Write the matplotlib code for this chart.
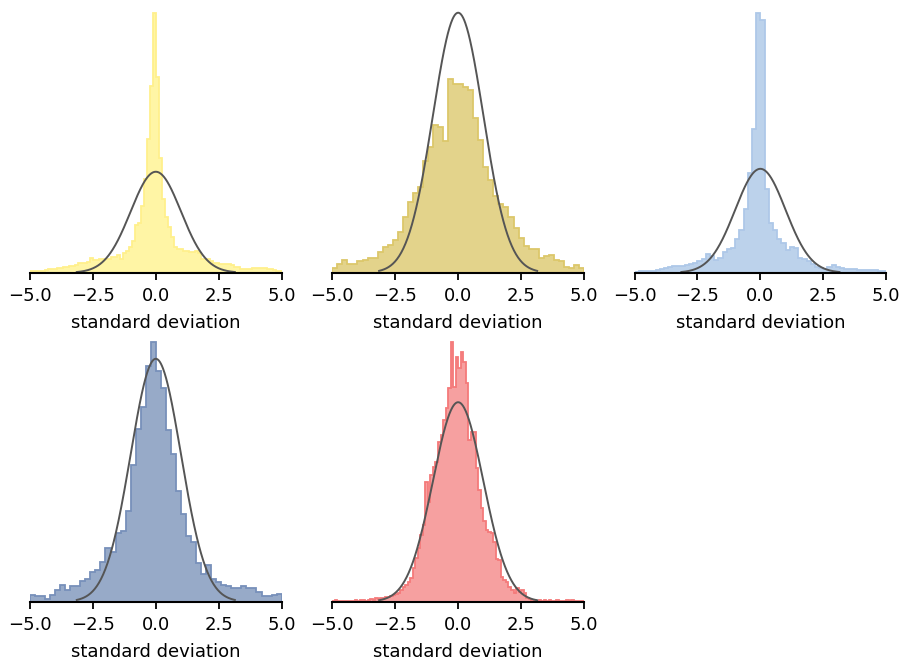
import matplotlib
matplotlib.use("Agg")
import matplotlib.pyplot as plt
import numpy as np

# histogram densities, bins spread evenly over [-5, 5]
yellow_density = [.008, .008, .005, .005, .005, .012, .014, .014, .016, .018,
                  .018, .021, .024, .025, .028, .030, .038, .038, .038, .041,
                  .057, .050, .050, .053, .053, .053, .055, .063, .063, .072,
                  .053, .079, .087, .103, .125, .188, .198, .263, .369, .527,
                  .737, 1.027, .772, .452, .290, .221, .182, .140, .103, .092,
                  .092, .087, .084, .080, .080, .087, .079, .053, .053, .053,
                  .047, .037, .037, .034, .034, .034, .034, .032, .024, .024,
                  .016, .016, .016, .016, .018, .020, .020, .020, .018, .013,
                  .013, .009, .008, .008]

khaki_density = [.008, .013, .019, .013, .014, .018, .019, .022, .022, .032,
                 .040, .042, .050, .063, .086, .108, .123, .131, .172, .193,
                 .227, .223, .202, .298, .289, .290, .285, .281, .238, .204,
                 .162, .143, .117, .106, .101, .086, .068, .053, .041, .037,
                 .037, .022, .026, .027, .019, .018, .009, .007, .012, .007]

lightblue_density = [.004, .006, .006, .006, .006, .012, .013, .019, .022, .026,
                     .026, .027, .028, .032, .038, .046, .051, .072, .064, .049,
                     .058, .079, .090, .096, .128, .164, .243, .384, .550, .998,
                     .972, .320, .192, .164, .128, .115, .087, .100, .096, .055,
                     .051, .046, .032, .023, .019, .015, .023, .028, .023, .017,
                     .013, .013, .013, .010, .010, .010, .012, .012, .008, .006]

slate_density = [.011, .009, .010, .005, .011, .019, .027, .019, .025, .026,
                 .034, .037, .049, .052, .066, .088, .082, .112, .116, .149,
                 .225, .283, .320, .387, .427, .379, .351, .282, .243, .181,
                 .144, .108, .098, .063, .046, .060, .038, .033, .027, .026,
                 .023, .022, .025, .023, .022, .016, .010, .010, .011, .013]

salmon_density = [.002, .003, .001, .001, .001, .001, .001, .001, .002, .003,
                  .001, .003, .004, .002, .003, .005, .004, .007, .006, .008,
                  .007, .009, .010, .012, .013, .015, .017, .023, .030, .033,
                  .040, .047, .067, .087, .107, .133, .153, .240, .200, .253,
                  .270, .280, .320, .333, .364, .387, .427, .520, .430, .490,
                  .467, .500, .480, .437, .323, .340, .340, .267, .223, .187,
                  .161, .143, .140, .137, .120, .085, .083, .050, .043, .040,
                  .030, .023, .017, .027, .020, .023, .017, .008, .005, .002,
                  .003, .001, .003, .001, .003, .001, .003, .001, .001, .003,
                  .001, .002, .001, .003, .001, .003, .002, .001, .002, .001]

fill_colors = ['#FFF5A5', '#E3D38B', '#BCD2EB', '#97AAC8', '#F6A0A0']
edge_colors = ['#FFF08C', '#DCC76A', '#AEC8E8', '#7790BA', '#F47A7A']

series = [yellow_density, khaki_density, lightblue_density, slate_density, salmon_density]

plt.rcParams['font.family'] = ['DejaVu Sans']

fig = plt.figure(figsize=(9.03, 6.62), dpi=100)

lefts = [0.0332, 0.368, 0.7027]
bottoms = [0.588, 0.0911]
width, height = 0.2787, 0.4124

curve_x = np.linspace(-3.14, 3.14, 300)
curve_y = np.exp(-curve_x ** 2 / 2) / np.sqrt(2 * np.pi)

for i, dens in enumerate(series):
    ax = fig.add_axes([lefts[i % 3], bottoms[i // 3], width, height])
    edges = np.linspace(-5, 5, len(dens) + 1)
    ax.stairs(dens, edges, fill=True, color=fill_colors[i], lw=0)
    ax.stairs(dens, edges, fill=False, color=edge_colors[i], lw=1.3)
    ax.plot(curve_x, curve_y, color='#555555', lw=1.4)

    ax.set_xlim(-5, 5)
    ax.set_ylim(bottom=0)
    ax.set_yticks([])
    ax.set_xticks([-5, -2.5, 0, 2.5, 5])
    ax.set_xticklabels(['\u22125.0', '\u22122.5', '0.0', '2.5', '5.0'])
    for side in ['left', 'top', 'right']:
        ax.spines[side].set_visible(False)
    ax.spines['bottom'].set_linewidth(1.5)
    ax.tick_params(axis='x', labelsize=13, length=5, width=1.3, pad=5)
    ax.set_xlabel('standard deviation', fontsize=13, labelpad=7)

fig.savefig('out.png', dpi=100)
